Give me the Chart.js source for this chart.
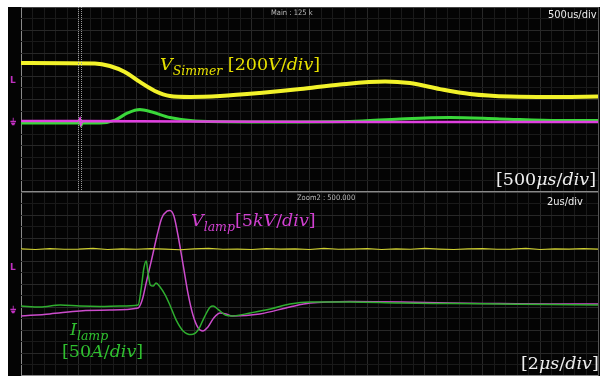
<!DOCTYPE html>
<html>
<head>
<meta charset="utf-8">
<script src="https://cdn.jsdelivr.net/npm/chart.js@4.4.0/dist/chart.umd.min.js"></script>
<style>
body { margin: 0; background: #fff; width: 606px; height: 376px; overflow: hidden; position: relative; }
#scope { position: absolute; left: 8px; top: 7px; width: 592px; height: 369px; background: #040404; }
#c1 { position: absolute; left: 8px; top: 7px; }
#c2 { position: absolute; left: 8px; top: 192px; }
.t { position: absolute; white-space: nowrap; line-height: 1; }
.small { font-family: "DejaVu Sans Condensed", "DejaVu Sans", sans-serif; color: #bbb; font-size: 7.5px; }
.div { font-family: "Liberation Sans Narrow", "DejaVu Sans Condensed", sans-serif; color: #eee; font-size: 11px; }
.m { font-family: "DejaVu Serif", serif; font-size: 17.5px; }
.m i sub { font-size: 12.5px; vertical-align: -5px; }
.mark { font-family: "DejaVu Sans", sans-serif; color: #c030c0; font-size: 9px; font-weight: bold; }
#cursor { position: absolute; left: 78px; top: 7px; width: 2px; height: 185px; border-left: 1px dotted #999; border-right: 1px dotted #999; }
</style>
</head>
<body>
<div id="scope"></div>
<canvas id="c1" width="592" height="185"></canvas>
<canvas id="c2" width="592" height="184"></canvas>
<div id="cursor"></div>

<div class="t small" style="left:271px;top:9px;">Main : 125 k</div>
<div class="t div" style="left:548px;top:9px;">500us/div</div>
<div class="t small" style="left:297px;top:194px;">Zoom2 : 500.000</div>
<div class="t div" style="left:547px;top:196px;">2us/div</div>

<div class="t mark" style="left:10px;top:76px;">L</div>
<div class="t mark" style="left:10px;top:118px;">⏚</div>
<div class="t mark" style="left:10px;top:263px;">L</div>
<div class="t mark" style="left:10px;top:306px;">⏚</div>

<div class="t m" style="left:160px;top:56px;color:#e6e000;"><i>V<sub>Simmer</sub></i> [200<i>V</i>/<i>div</i>]</div>
<div class="t m" style="left:496px;top:171px;color:#eee;">[500<i>μs</i>/<i>div</i>]</div>
<div class="t m" style="left:191px;top:212px;color:#d040d0;"><i>V<sub>lamp</sub></i>[5<i>kV</i>/<i>div</i>]</div>
<div class="t m" style="left:70px;top:321px;color:#2fc02f;"><i>I<sub>lamp</sub></i></div>
<div class="t m" style="left:62px;top:343px;color:#2fc02f;">[50<i>A</i>/<i>div</i>]</div>
<div class="t m" style="left:521px;top:355px;color:#eee;">[2<i>μs</i>/<i>div</i>]</div>

<script>
// time in divisions (10 div across), amplitude in divisions (8 div per pane)
const simmerT = [0, 1.28, 1.54, 1.80, 2.06, 2.32, 2.58, 2.93, 3.45, 4.14, 4.84, 5.53, 6.31, 6.74, 7.26, 7.78, 8.47, 9.34, 10];
const simmerV = [1.58, 1.56, 1.45, 1.19, 0.76, 0.37, 0.15, 0.11, 0.15, 0.28, 0.45, 0.65, 0.78, 0.71, 0.45, 0.24, 0.13, 0.11, 0.13];

const mainIT = [0, 1.00, 1.02, 1.04, 1.06, 1.37, 1.63, 1.85, 2.06, 2.27, 2.58, 3.02, 4.14, 5.70, 6.57, 7.43, 8.30, 9.34, 10];
const mainI = [-1.02, -1.02, -0.88, -1.12, -1.02, -1.02, -0.89, -0.58, -0.43, -0.54, -0.78, -0.93, -0.97, -0.95, -0.84, -0.78, -0.84, -0.91, -0.91];

const mainVT = [0, 1.00, 1.02, 1.04, 1.06, 3, 6, 10];
const mainV = [-0.93, -0.93, -0.85, -1.05, -0.93, -0.95, -0.97, -0.97];

const zoomYT = [0, 0.25, 0.5, 0.75, 1, 1.25, 1.5, 1.75, 2, 2.25, 2.5, 2.75, 3, 3.25, 3.5, 3.75, 4, 4.25, 4.5, 4.75, 5,
  5.25, 5.5, 5.75, 6, 6.25, 6.5, 6.75, 7, 7.25, 7.5, 7.75, 8, 8.25, 8.5, 8.75, 9, 9.25, 9.5, 9.75, 10];
const zoomY = [1.53, 1.50, 1.54, 1.51, 1.52, 1.55, 1.50, 1.53, 1.51, 1.54, 1.52, 1.49, 1.53, 1.55, 1.51, 1.52, 1.50, 1.54, 1.52, 1.53, 1.50,
  1.55, 1.51, 1.52, 1.54, 1.50, 1.53, 1.51, 1.55, 1.52, 1.50, 1.53, 1.54, 1.51, 1.52, 1.55, 1.50, 1.53, 1.52, 1.54, 1.52];

const lampIT = [0, 0.33, 0.68, 1.02, 1.37, 1.72, 2.03, 2.08, 2.13, 2.17, 2.20, 2.24, 2.29, 2.34, 2.41, 2.50, 2.58, 2.69, 2.81, 2.95,
  3.07, 3.17, 3.28, 3.33, 3.41, 3.54, 3.66, 3.97, 4.32, 4.66, 5.01, 5.70, 6.57, 7.43, 8.30, 9.17, 10];
const lampI = [-0.96, -1.00, -0.91, -0.96, -0.98, -0.96, -0.91, -0.26, 0.70, 1.00, 0.52, -0.04, -0.09, 0.04, -0.13, -0.48, -0.91, -1.57, -2.04, -2.20,
  -2.00, -1.48, -1.00, -0.96, -1.09, -1.35, -1.39, -1.26, -1.09, -0.87, -0.78, -0.78, -0.83, -0.85, -0.87, -0.89, -0.91];

const lampVT = [0, 0.50, 1.02, 1.54, 2.03, 2.10, 2.18, 2.27, 2.36, 2.44, 2.53, 2.58, 2.65, 2.72, 2.81, 2.89, 2.98, 3.07, 3.15, 3.24,
  3.34, 3.45, 3.55, 3.66, 4.14, 4.66, 5.01, 5.70, 6.57, 7.43, 8.30, 9.17, 10];
const lampV = [-1.39, -1.30, -1.17, -1.13, -1.04, -0.70, 0.17, 1.13, 2.13, 2.87, 3.17, 3.20, 2.96, 2.13, 0.83, -0.35, -1.35, -1.91, -2.04, -1.87,
  -1.48, -1.26, -1.30, -1.39, -1.30, -1.00, -0.83, -0.76, -0.78, -0.83, -0.85, -0.87, -0.87];

function pts(xs, ys) {
  return xs.map((x, i) => ({x: x, y: ys[i]}));
}

function isMajor(v) {
  return Math.abs(v - Math.round(v)) < 1e-6;
}

function scopeScales() {
  return {
    x: {
      type: 'linear', min: 0, max: 10,
      ticks: { display: false, stepSize: 0.2, maxTicksLimit: 100 },
      border: { display: false },
      grid: {
        drawTicks: false,
        lineWidth: 1,
        color: ctx => {
          const v = ctx.tick.value;
          if (Math.abs(v) < 1e-6) return '#8a8a8a';
          if (Math.abs(v - 10) < 1e-6) return '#555';
          return isMajor(v) ? '#282828' : '#1a1a1a';
        }
      }
    },
    y: {
      type: 'linear', min: -4, max: 4,
      ticks: { display: false, stepSize: 0.5, maxTicksLimit: 100 },
      border: { display: false },
      grid: {
        drawTicks: false,
        lineWidth: ctx => (Math.abs(ctx.tick.value + 4) < 1e-6 ? 2 : 1),
        color: ctx => {
          const v = ctx.tick.value;
          if (Math.abs(v + 4) < 1e-6) return '#8a8a8a';
          if (Math.abs(v - 4) < 1e-6) return '#444';
          return isMajor(v) ? '#282828' : '#1a1a1a';
        }
      }
    }
  };
}

function trace(data, color, width, tension) {
  return {
    data: data,
    borderColor: color,
    borderWidth: width,
    pointRadius: 0,
    fill: false,
    tension: tension,
    cubicInterpolationMode: tension > 0 ? 'monotone' : 'default'
  };
}

function scopeOptions() {
  return {
    responsive: false,
    animation: false,
    devicePixelRatio: 1,
    layout: { padding: { left: 13, right: 2, top: 0, bottom: 0 } },
    plugins: { legend: { display: false }, tooltip: { enabled: false } },
    scales: scopeScales()
  };
}

new Chart(document.getElementById('c1').getContext('2d'), {
  type: 'line',
  data: {
    datasets: [
      trace(pts(mainVT, mainV), '#e040e0', 2.5, 0),
      trace(pts(mainIT, mainI), '#3ad83a', 3, 0.4),
      trace(pts(simmerT, simmerV), '#f2f22a', 4, 0.4)
    ]
  },
  options: scopeOptions()
});

new Chart(document.getElementById('c2').getContext('2d'), {
  type: 'line',
  data: {
    datasets: [
      trace(pts(zoomYT, zoomY), '#cfcf30', 1.2, 0),
      trace(pts(lampIT, lampI), '#2fae2f', 1.5, 0.3),
      trace(pts(lampVT, lampV), '#cc4ccc', 1.5, 0.3)
    ]
  },
  options: scopeOptions()
});
</script>
</body>
</html>
